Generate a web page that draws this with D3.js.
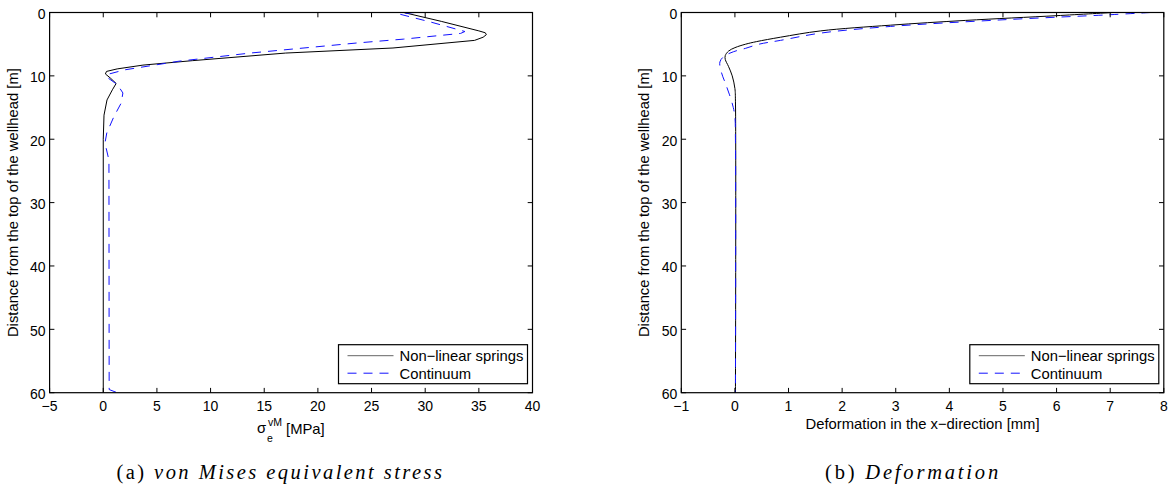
<!DOCTYPE html>
<html>
<head>
<meta charset="utf-8">
<script src="https://cdn.jsdelivr.net/npm/d3@7"></script>
<style>
  body { margin: 0; background: #fff; }
  svg { display: block; }
  text { font-family: "Liberation Sans", Arial, Helvetica, sans-serif; fill: #000; }
</style>
</head>
<body>
<svg id="fig" width="1171" height="491"></svg>
<script>
// ---- von Mises equivalent stress [MPa] versus depth [m] ----
const springStress      = [28.0, 31.5, 35.0, 35.6, 35.7, 35.4, 34.6, 27.0, 17.0, 8.3, 3.7, 1.3, 0.3, 0.2, 0.7, 1.2, 0.85, 0.35, 0.07, 0.0, 0.0];
const springStressDepth = [0.0,  1.4,  2.9,  3.2,  3.5,  3.9,  4.4,  5.6,  6.4,  7.6, 8.3, 8.9, 9.3, 9.7, 10.4, 11.2, 12.2, 13.8, 16.2, 20.0, 60.0];
const contStress        = [29.0, 27.6, 30.5, 33.7, 33.3, 28.0, 23.7, 13.7, 7.0, 2.0, 0.33, 0.5, 1.33, 1.83, 1.67, 1.0, 0.33, 0.16, 0.53, 0.55, 1.3];
const contStressDepth   = [0.0,  0.25, 1.5,  3.0,  3.3,  4.2,  4.8,  6.4,  7.7, 9.05, 9.8, 10.4, 11.4, 12.7, 14.3, 16.4, 19.0, 20.6, 23.3, 59.5, 60.0];

// ---- deformation in the x-direction [mm] versus depth [m] ----
const springDef      = [7.05, 6.0, 4.3,  2.9, 1.6, 0.85, 0.4, 0.2, 0.0,  -0.12, -0.18, -0.18, -0.12, -0.05, 0.0,  0.01, 0.01];
const springDefDepth = [0.0,  0.5, 1.25, 2.0, 2.9, 3.9,  4.6, 5.0, 5.55, 6.1,   6.8,   7.4,   8.5,   10.0,  12.0, 14.0, 60.0];
const contDef        = [7.75, 7.0,  5.0,  2.9, 1.6,  0.85, 0.45, 0.2,  -0.03, -0.2, -0.28, -0.25, -0.19, -0.1, -0.03, 0.0,  0.01, 0.01];
const contDefDepth   = [0.0,  0.35, 1.15, 2.2, 3.25, 4.4,  5.0,  5.65, 6.2,   6.9,  7.8,   9.5,   10.9,  13.0, 15.0,  16.5, 20.0, 60.0];

// ---- axis ticks and labels ----
const stressTicks = [-5, 0, 5, 10, 15, 20, 25, 30, 35, 40];
const defTicks    = [-1, 0, 1, 2, 3, 4, 5, 6, 7, 8];
const depthTicks  = [0, 10, 20, 30, 40, 50, 60];
const seriesNames = ["Non\u2212linear springs", "Continuum"];
const depthLabel  = "Distance from the top of the wellhead [m]";
const defLabel    = "Deformation in the x\u2212direction [mm]";

const svg = d3.select("#fig");
const fmt = v => (v < 0 ? "\u2212" + Math.abs(v) : String(v));
const labelSize = 14.8;

function drawPanel(o) {
  const g = svg.append("g");
  const x = d3.scaleLinear().domain(o.xDomain).range([o.left, o.right]);
  const y = d3.scaleLinear().domain([0, 60]).range([o.top, o.bottom]);
  const tl = 4.8;

  // data curves
  const line = d3.line().x(d => x(d[0])).y(d => y(d[1])).curve(o.curve);
  o.series.forEach(s => {
    g.append("path")
      .datum(d3.zip(s.x, s.depth))
      .attr("fill", "none")
      .attr("stroke", s.color)
      .attr("stroke-width", 1)
      .attr("stroke-dasharray", s.dash || null)
      .attr("d", line);
  });

  // box with inward ticks on all sides
  g.append("rect")
    .attr("x", o.left).attr("y", o.top)
    .attr("width", o.right - o.left).attr("height", o.bottom - o.top)
    .attr("fill", "none").attr("stroke", "#000").attr("stroke-width", 1.2);

  o.xTicks.forEach(t => {
    const px = x(t);
    g.append("line").attr("x1", px).attr("x2", px).attr("y1", o.bottom).attr("y2", o.bottom - tl).attr("stroke", "#000");
    g.append("line").attr("x1", px).attr("x2", px).attr("y1", o.top).attr("y2", o.top + tl).attr("stroke", "#000");
    g.append("text").attr("x", px).attr("y", o.bottom + 18.5)
      .attr("text-anchor", "middle").attr("font-size", 14).text(fmt(t));
  });
  depthTicks.forEach(t => {
    const py = y(t);
    g.append("line").attr("x1", o.left).attr("x2", o.left + tl).attr("y1", py).attr("y2", py).attr("stroke", "#000");
    g.append("line").attr("x1", o.right).attr("x2", o.right - tl).attr("y1", py).attr("y2", py).attr("stroke", "#000");
    g.append("text").attr("x", o.left - 4).attr("y", py + 6.5)
      .attr("text-anchor", "end").attr("font-size", 14).text(t);
  });

  // y-axis label
  const cy = (o.top + o.bottom) / 2;
  g.append("text")
    .attr("transform", `translate(${o.left - 32},${cy}) rotate(-90)`)
    .attr("text-anchor", "middle").attr("font-size", labelSize).text(depthLabel);

  // x-axis label
  o.xLabel(g, (o.left + o.right) / 2);

  // legend
  const lw = 189, lh = 39;
  const lx = o.right - 5 - lw, ly = o.bottom - 9 - lh;
  g.append("rect").attr("x", lx).attr("y", ly).attr("width", lw).attr("height", lh)
    .attr("fill", "#fff").attr("stroke", "#000").attr("stroke-width", 1.2);
  o.series.forEach((s, i) => {
    const ry = ly + 11 + i * 17.5;
    g.append("line").attr("x1", lx + 9).attr("x2", lx + 55).attr("y1", ry).attr("y2", ry)
      .attr("stroke", i === 0 ? "#666" : s.color).attr("stroke-width", 1)
      .attr("stroke-dasharray", s.dash || null);
    g.append("text").attr("x", lx + 61).attr("y", ry + 5.3)
      .attr("font-size", labelSize).text(seriesNames[i]);
  });

  // sub-figure caption, lightly letter-spaced out to its set width
  const cap = svg.append("text")
    .attr("x", o.capX).attr("y", 479)
    .attr("text-anchor", "middle")
    .style("font-family", "'Liberation Serif', 'Times New Roman', serif")
    .attr("font-size", 20.5);
  cap.append("tspan").text(o.capTag + " ");
  cap.append("tspan").attr("font-style", "italic").text(o.capText);
  const w = cap.node().getBBox().width;
  const n = (o.capTag + " " + o.capText).length;
  const ls = Math.max(0, (o.capWidth - w) / n);
  cap.style("letter-spacing", ls + "px").attr("x", o.capX + ls / 2);
}

drawPanel({
  left: 49.6, right: 532.5, top: 12.5, bottom: 392.7,
  xDomain: [-5, 40], xTicks: stressTicks, curve: d3.curveLinear,
  series: [
    { x: springStress, depth: springStressDepth, color: "#000" },
    { x: contStress, depth: contStressDepth, color: "#1010ff", dash: "9,7" }
  ],
  xLabel: (g, cx) => {
    g.append("text").attr("x", cx - 34).attr("y", 433).attr("font-size", labelSize).text("\u03c3");
    g.append("text").attr("x", cx - 24).attr("y", 441.5).attr("font-size", 10.5).text("e");
    g.append("text").attr("x", cx - 23).attr("y", 426).attr("font-size", 10.5).text("vM");
    g.append("text").attr("x", cx - 5).attr("y", 434).attr("font-size", labelSize).text("[MPa]");
  },
  capX: 279.2, capWidth: 328, capTag: "(a)", capText: "von Mises equivalent stress"
});

drawPanel({
  left: 681.3, right: 1163.8, top: 12.5, bottom: 392.7,
  xDomain: [-1, 8], xTicks: defTicks, curve: d3.curveCatmullRom,
  series: [
    { x: springDef, depth: springDefDepth, color: "#000" },
    { x: contDef, depth: contDefDepth, color: "#1010ff", dash: "9,7" }
  ],
  xLabel: (g, cx) => {
    g.append("text").attr("x", cx).attr("y", 428.5).attr("text-anchor", "middle")
      .attr("font-size", labelSize).text(defLabel);
  },
  capX: 911.6, capWidth: 176, capTag: "(b)", capText: "Deformation"
});
</script>
</body>
</html>
